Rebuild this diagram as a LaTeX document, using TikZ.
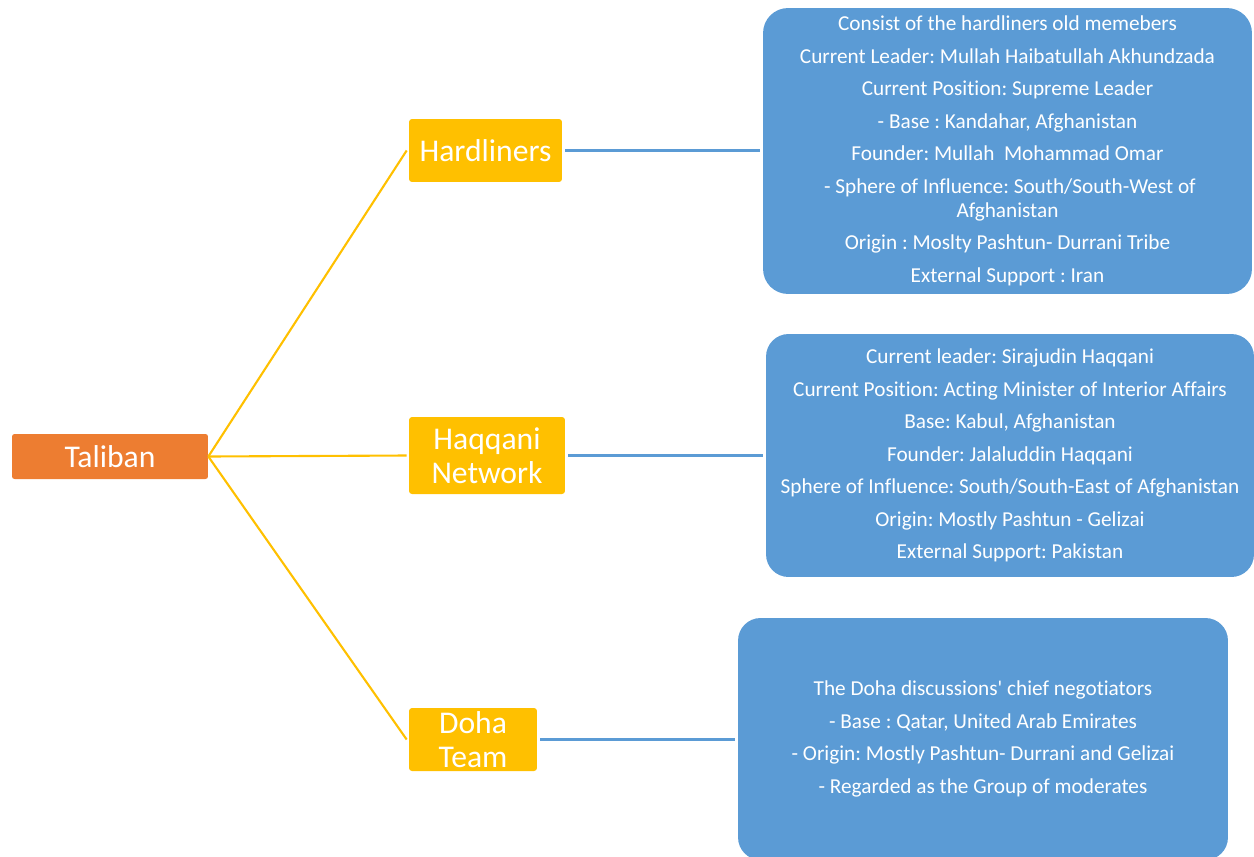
\documentclass[tikz,border=0pt]{standalone}
\usepackage{fontspec}
\setmainfont{Carlito}[Ligatures=NoCommon]
\usetikzlibrary{positioning}
\definecolor{talibanorange}{HTML}{ED7D31}
\definecolor{factionyellow}{HTML}{FFC000}
\definecolor{infoblue}{HTML}{5B9BD5}
\frenchspacing

\begin{document}
\begin{tikzpicture}[x=0.02cm, y=-0.02cm]
\tikzstyle{root}=[fill=talibanorange, rounded corners=0.05cm, text=white, font=\fontsize{18}{19.3}\selectfont, inner sep=0pt]
\tikzstyle{faction}=[fill=factionyellow, rounded corners=0.06cm, text=white, font=\fontsize{18}{19.3}\selectfont, align=center, inner sep=0pt]
\tikzstyle{info}=[fill=infoblue, rounded corners=0.5cm, text=white, font=\fontsize{12.1}{13.7}\selectfont, align=center, inner sep=0pt]
\tikzstyle{branch}=[draw=factionyellow, line width=1.2pt]
\tikzstyle{link}=[draw=infoblue, line width=1.5pt]
	\useasboundingbox (0,0) rectangle (1254,856);
	\node[root, minimum width=3.92cm, minimum height=0.9cm] (taliban) at (110,456.5) {Taliban};

	\node[faction, minimum width=3.06cm, minimum height=1.26cm] (hard) at (485.5,150.5) {Hardliners};
	\node[faction, minimum width=3.12cm, minimum height=1.54cm] (haqqani) at (487,455.5) {Haqqani\\Network};
	\node[faction, minimum width=2.56cm, minimum height=1.26cm] (doha) at (473,739.5) {Doha\\Team};

	% info boxes
	\node[info, minimum width=9.78cm, minimum height=5.72cm] (hardinfo) at (1007.5,151) {Consist of the hardliners old memebers\\[4.8pt]
		Current Leader: Mullah Haibatullah Akhundzada\\[4.8pt]
		Current Position: Supreme Leader\\[4.8pt]
		- Base : Kandahar, Afghanistan\\[4.8pt]
		Founder: Mullah\ \ Mohammad Omar\\[4.8pt]
		\ - Sphere of Influence: South/South-West of\\Afghanistan\\[4.8pt]
		Origin : Moslty Pashtun- Durrani Tribe\\[4.8pt]
		External Support : Iran};
	\node[info, rounded corners=0.45cm, minimum width=9.76cm, minimum height=4.86cm] (haqinfo) at (1010,455.5) {Current leader: Sirajudin Haqqani\\[4.8pt]
		Current Position: Acting Minister of Interior Affairs\\[4.8pt]
		Base: Kabul, Afghanistan\\[4.8pt]
		Founder: Jalaluddin Haqqani\\[4.8pt]
		Sphere of Influence: South/South-East of Afghanistan\\[4.8pt]
		Origin: Mostly Pashtun - Gelizai\\[4.8pt]
		External Support: Pakistan};
	\node[info, rounded corners=0.45cm, minimum width=9.8cm, minimum height=4.84cm] (dohainfo) at (983,739) {The Doha discussions\textquotesingle{} chief negotiators\\[4.8pt]
		- Base : Qatar, United Arab Emirates\\[4.8pt]
		- Origin: Mostly Pashtun- Durrani and Gelizai\\[4.8pt]
		- Regarded as the Group of moderates};

	\draw[branch] (taliban.east) -- ([xshift=-0.04cm]hard.west);
	\draw[branch] (taliban.east) -- ([xshift=-0.04cm]haqqani.west);
	\draw[branch] (taliban.east) -- ([xshift=-0.04cm]doha.west);

	\draw[link] ([xshift=0.06cm]hard.east) -- ([xshift=-0.06cm]hard.east -| hardinfo.west);
	\draw[link] ([xshift=0.06cm]haqqani.east) -- ([xshift=-0.06cm]haqqani.east -| haqinfo.west);
	\draw[link] ([xshift=0.06cm]doha.east) -- ([xshift=-0.06cm]doha.east -| dohainfo.west);
\end{tikzpicture}
\end{document}
